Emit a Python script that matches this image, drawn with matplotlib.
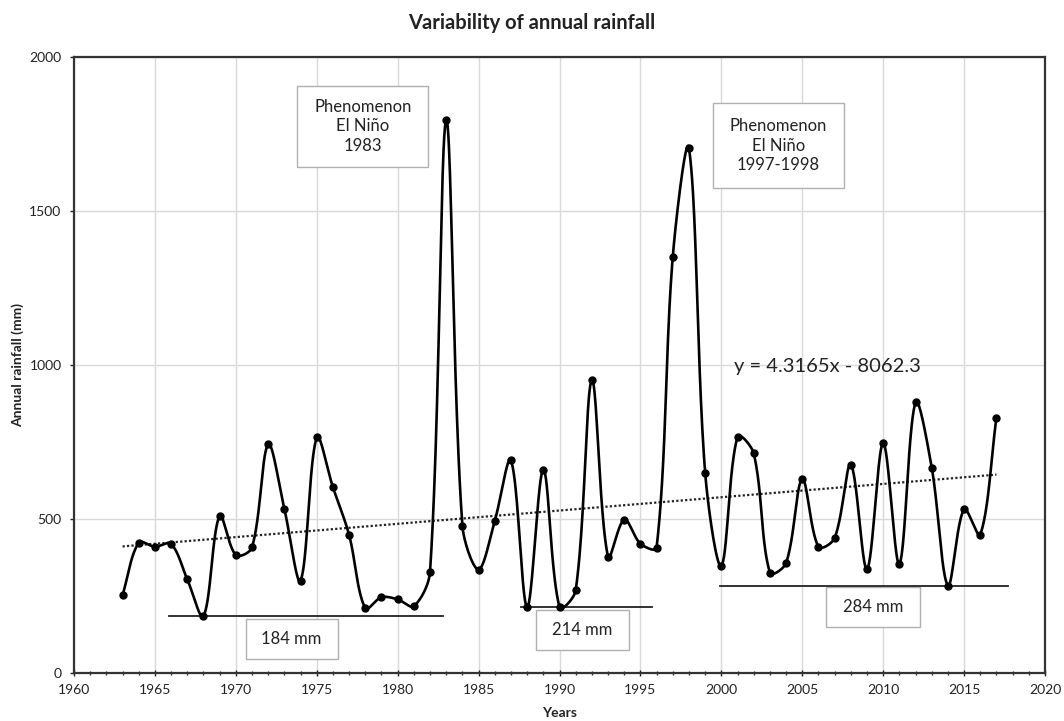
import numpy as np
import matplotlib
matplotlib.use("Agg")
import matplotlib.pyplot as plt
from matplotlib.patches import Rectangle
from matplotlib.ticker import MultipleLocator

plt.rcParams['font.family'] = ['Lato', 'DejaVu Sans']

# ---- data ----
years = list(range(1963, 2018))
rainfall = [253, 423, 410, 419, 304, 184, 510, 383, 408, 742,
            532, 300, 765, 603, 448, 210, 246, 239, 217, 329,
            1795, 478, 336, 494, 691, 214, 660, 214, 268, 951,
            377, 498, 420, 407, 1352, 1704, 650, 348, 767, 713,
            326, 357, 629, 410, 438, 676, 337, 747, 354, 879,
            667, 284, 532, 449, 829]
trend_slope = 4.3165
trend_intercept = -8062.3
minima_values = [184, 214, 284]
minima_labels = ["184 mm", "214 mm", "284 mm"]
minima_spans = [(1965.9, 1982.8), (1987.6, 1995.7), (1999.9, 2017.7)]
event_labels = ["Phenomenon\nEl Niño\n1983", "Phenomenon\nEl Niño\n1997-1998"]
title = "Variability of annual rainfall"
xlabel = "Years"
ylabel = "Annual rainfall (mm)"

XLIM = (1960, 2020)
YLIM = (0, 2000)
AX_W_PX = 1045 - 74
AX_H_PX = 673 - 57


def smooth_curve(x, y, n=40):
    """Excel-style smoothed line rendering (chord-scaled Bezier), in pixel space."""
    sx = AX_W_PX / (XLIM[1] - XLIM[0])
    sy = AX_H_PX / (YLIM[1] - YLIM[0])
    P = np.column_stack([np.asarray(x, float) * sx, np.asarray(y, float) * sy])
    Pext = np.vstack([P[0], P, P[-1]])
    out = []
    t = np.linspace(0, 1, n)[:, None]
    for i in range(len(P) - 1):
        p0, p1, p2, p3 = Pext[i], Pext[i + 1], Pext[i + 2], Pext[i + 3]
        d01 = np.linalg.norm(p1 - p0)
        d12 = np.linalg.norm(p2 - p1)
        d23 = np.linalg.norm(p3 - p2)
        f1 = d12 / (d01 + d12) / 3 if d01 + d12 > 0 else 0
        f2 = d12 / (d12 + d23) / 3 if d12 + d23 > 0 else 0
        c1 = p1 + (p2 - p0) * f1
        c2 = p2 - (p3 - p1) * f2
        seg = ((1 - t) ** 3) * p1 + 3 * ((1 - t) ** 2) * t * c1 + 3 * (1 - t) * t ** 2 * c2 + t ** 3 * p2
        out.append(seg if i == 0 else seg[1:])
    out = np.vstack(out)
    return out[:, 0] / sx, out[:, 1] / sy


fig = plt.figure(figsize=(10.64, 7.21), dpi=100)
ax = fig.add_axes([74 / 1064, 48 / 721, AX_W_PX / 1064, AX_H_PX / 721])

ax.set_xlim(*XLIM)
ax.set_ylim(*YLIM)
ax.xaxis.set_major_locator(MultipleLocator(5))
ax.xaxis.set_minor_locator(MultipleLocator(1))
ax.yaxis.set_major_locator(MultipleLocator(500))
ax.grid(True, which='major', color='#d9d9d9', lw=1.0)
ax.set_axisbelow(True)

for s in ax.spines.values():
    s.set_color('#333333')
    s.set_linewidth(1.6)

ax.tick_params(axis='x', which='major', direction='inout', length=4, width=1, labelsize=10, pad=6,
               colors='#222222')
ax.tick_params(axis='x', which='minor', direction='inout', length=3, width=1, colors='#333333')
ax.tick_params(axis='y', which='major', direction='out', length=3, width=1, labelsize=10, pad=6,
               colors='#222222')

# smoothed series
sx, sy = smooth_curve(years, rainfall)
ax.plot(sx, sy, color='black', lw=1.9, zorder=4)
ax.plot(years, rainfall, 'o', color='black', ms=5, zorder=5)

# trend line
tx = np.array([years[0], years[-1]], float)
ax.plot(tx, trend_slope * tx + trend_intercept, color='#222222', lw=1.6, ls=(0, (1, 1)), zorder=3)
ax.text(2000.8, 995, f"y = {trend_slope}x - {abs(trend_intercept)}", fontsize=14.5,
        color='#222222', va='center', ha='left')

# minima lines and boxes
box_specs = [(1970.6, 45, 5.7, 130), (1988.55, 75, 5.75, 130), (2006.45, 150, 5.85, 130)]
for (x0, x1), val, lab, (bx, by, bw, bh) in zip(minima_spans, minima_values, minima_labels, box_specs):
    ax.plot([x0, x1], [val, val], color='#222222', lw=1.3, zorder=3)
    ax.add_patch(Rectangle((bx, by), bw, bh, facecolor='white', edgecolor='#b0b0b0', lw=1.0, zorder=2))
    ax.text(bx + bw / 2, by + bh / 2, lab, ha='center', va='center', fontsize=12, color='#222222', zorder=3)

# El Niño boxes
ev_boxes = [(1973.8, 1644, 8.1, 262), (1999.5, 1574, 8.05, 276)]
for lab, (bx, by, bw, bh) in zip(event_labels, ev_boxes):
    ax.add_patch(Rectangle((bx, by), bw, bh, facecolor='white', edgecolor='#b0b0b0', lw=1.0, zorder=2))
    ax.text(bx + bw / 2, by + bh / 2, lab, ha='center', va='center', fontsize=12,
            color='#222222', linespacing=1.25, zorder=3)

fig.text(531.5 / 1064, 1 - 23 / 721, title, ha='center', va='center', fontsize=14.5,
         fontweight='bold', color='#222222')
ax.set_xlabel(xlabel, fontsize=10, fontweight='bold', color='#222222', labelpad=8)
ax.set_ylabel(ylabel, fontsize=10, fontweight='bold', color='#222222', labelpad=4)

fig.savefig("out.png", dpi=100, facecolor='white')
